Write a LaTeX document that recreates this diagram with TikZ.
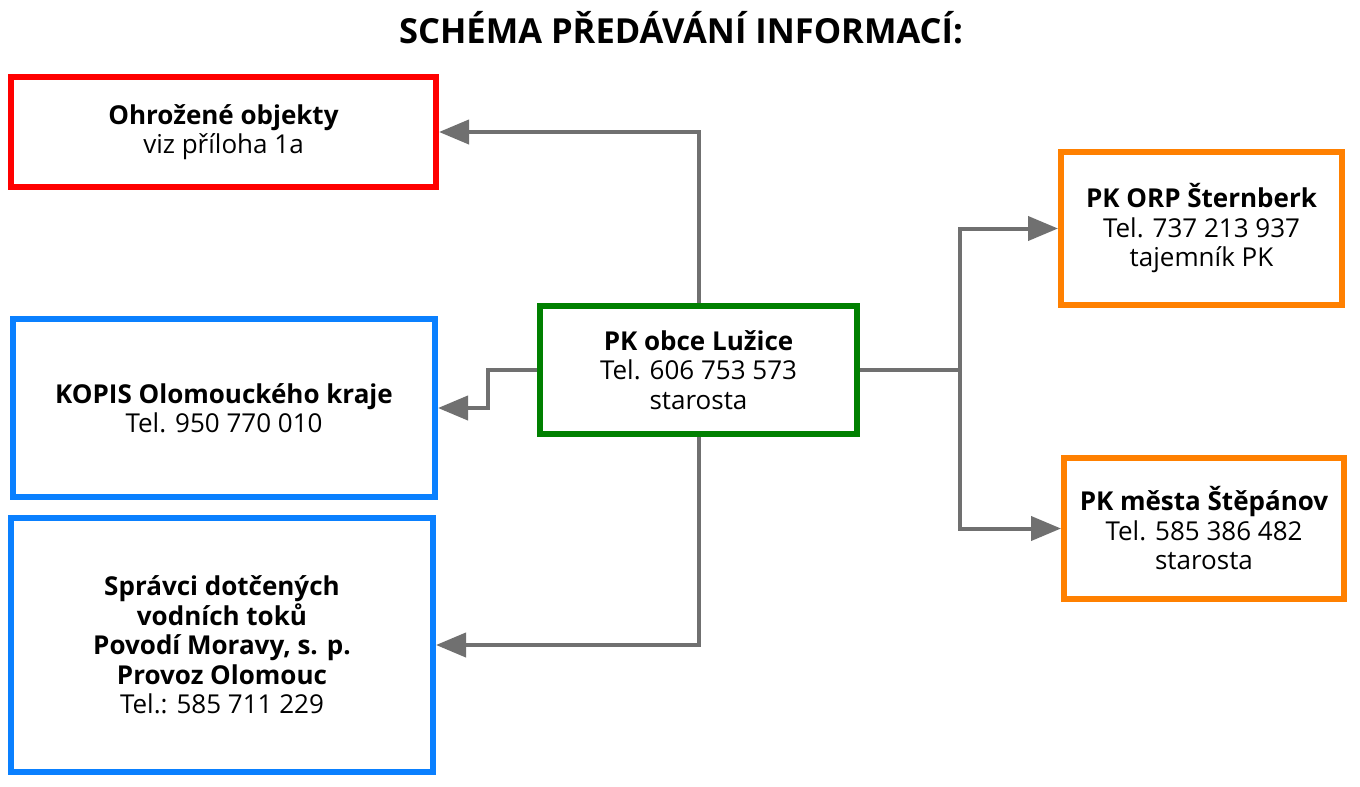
\documentclass[tikz,border=0pt]{standalone}
\usepackage{fontspec}
\setmainfont{Open Sans}
\usetikzlibrary{arrows.meta}
\definecolor{cred}{HTML}{FF0000}
\definecolor{cblue}{HTML}{0A80FF}
\definecolor{cgreen}{HTML}{008000}
\definecolor{corange}{HTML}{FF8000}
\definecolor{cgray}{HTML}{707070}
\tikzset{
  box/.style={draw, line width=6pt, fill=white, align=center, inner sep=0pt,
    font=\fontsize{26}{29.5}\selectfont},
  conn/.style={draw=cgray, line width=4pt},
  arr/.style={conn, -{Triangle[length=30pt,width=24pt]}},
}
\begin{document}
\begin{tikzpicture}[x=1pt,y=-1pt]
\useasboundingbox (0,0) rectangle (1360,787);
\fill[white] (0,0) rectangle (1360,787);
\node[font=\fontsize{34.5}{40}\selectfont\bfseries, anchor=base, inner sep=0pt] (title) at (681,43) {SCHÉMA PŘEDÁVÁNÍ INFORMACÍ:};
\node[box, draw=cred, minimum width=425pt, minimum height=110pt] (red) at (223.5,132)
  {\textbf{Ohrožené objekty}\\viz příloha 1a};
\node[box, draw=cblue, minimum width=422pt, minimum height=178pt] (kopis) at (224,408)
  {\textbf{KOPIS Olomouckého kraje}\\Tel. 950 770 010};
\node[box, draw=cblue, minimum width=422pt, minimum height=254pt] (spravci) at (222,645)
  {\textbf{Správci dotčených}\\\textbf{vodních toků}\\\textbf{Povodí Moravy, s. p.}\\\textbf{Provoz Olomouc}\\Tel.: 585 711 229};
\node[box, draw=cgreen, minimum width=317pt, minimum height=128pt] (green) at (698.5,370)
  {\textbf{PK obce Lužice}\\Tel. 606 753 573\\starosta};
\node[box, draw=corange, minimum width=281pt, minimum height=153pt] (orp) at (1201.5,228.5)
  {\textbf{PK ORP Šternberk}\\Tel. 737 213 937\\tajemník PK};
\node[box, draw=corange, minimum width=280pt, minimum height=141pt] (stepanov) at (1204,528.5)
  {\textbf{PK města Štěpánov}\\Tel. 585 386 482\\starosta};
\coordinate (kj) at (488,370);
\coordinate (rj) at (960,370);
\draw[arr] (green.north) |- (red.east);
\draw[arr] (green.west) -- (kj) |- (kopis.east);
\draw[arr] (green.south) |- (spravci.east);
\draw[conn] (green.east) -- (rj);
\draw[arr] (rj) |- (orp.west);
\draw[arr] (rj) |- (stepanov.west);
\end{tikzpicture}
\end{document}
